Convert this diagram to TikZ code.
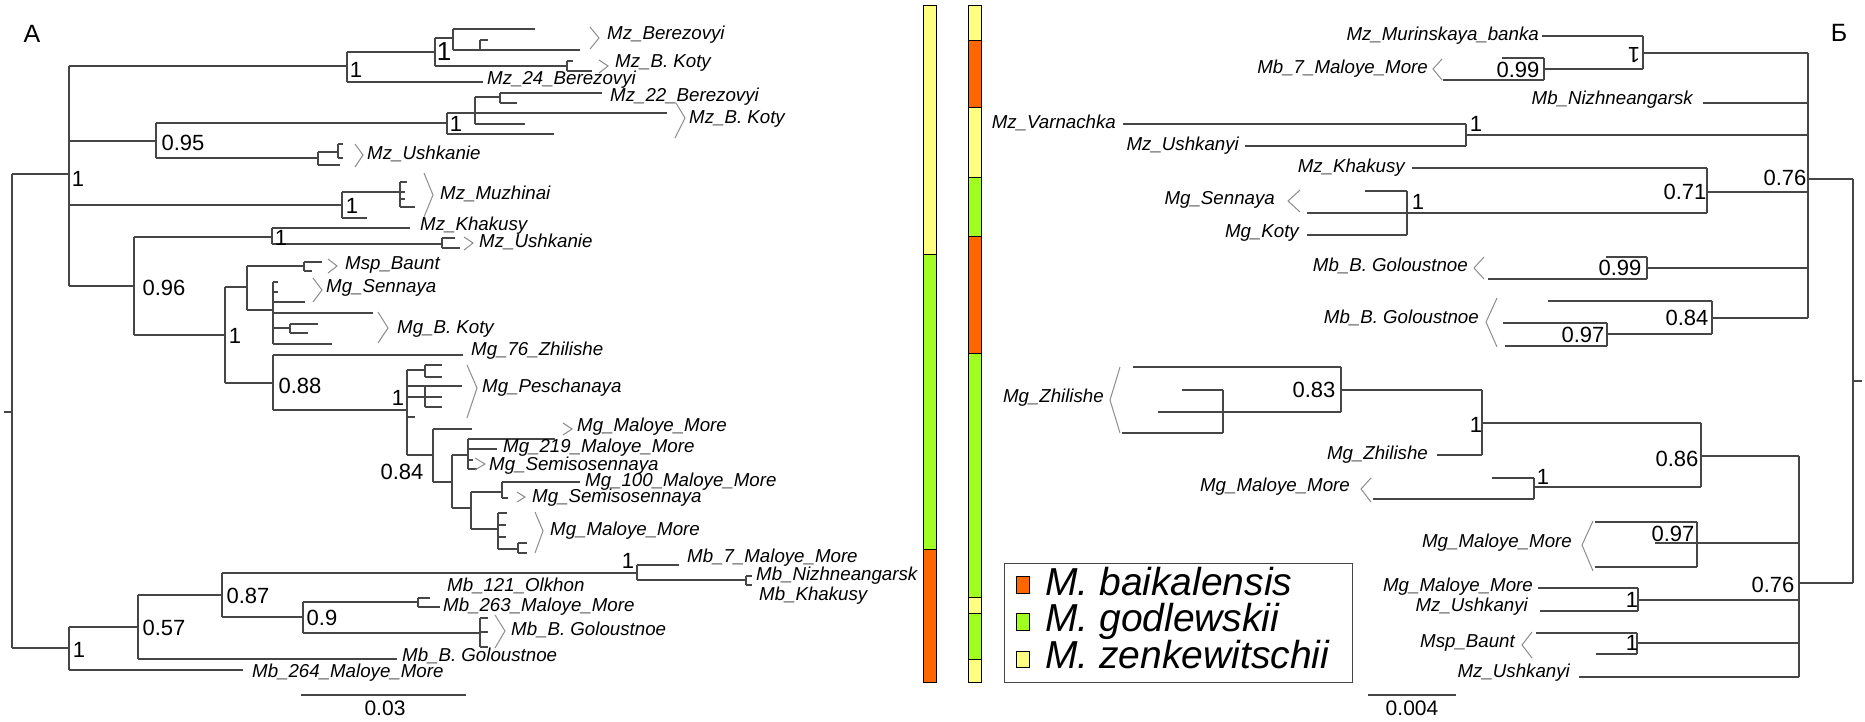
\documentclass[tikz,border=0pt]{standalone}
\usepackage{fontspec}
\setmainfont{Liberation Sans}
\definecolor{ln}{RGB}{70,70,70}
\definecolor{bk}{RGB}{140,140,140}
\definecolor{cor}{RGB}{255,102,0}
\definecolor{cgr}{RGB}{160,255,32}
\definecolor{cye}{RGB}{255,255,128}
\begin{document}
\begin{tikzpicture}[x=1pt,y=-1pt,
  brl/.style={draw=ln,line width=1.3pt},
  brk/.style={draw=bk,line width=1pt},
  tx/.style={font=\fontsize{18.7}{20}\selectfont\itshape,inner sep=0pt,text height=13.5pt,text depth=4pt},
  tw/.style={tx,anchor=west},
  te/.style={tx,anchor=east},
  nb/.style={font=\fontsize{22}{24}\selectfont,inner sep=0pt,text height=15.8pt,text depth=0pt},
  seg/.style={draw=black,line width=1pt},
  lg/.style={font=\fontsize{39}{40}\selectfont\itshape,inner sep=0pt,anchor=west,text height=28pt,text depth=0pt}]
\useasboundingbox (0,0) rectangle (1865,721);
% ================= TREE A =================
\node[font=\fontsize{25}{28}\selectfont,inner sep=0pt] (hA) at (32,34) {А};
\draw[brl] (4,412)--(12,412) (12,174)--(12,648) (12,174)--(69,174) (12,648)--(69,648)
 (69,66)--(69,286) (69,66)--(347,66) (69,141)--(156,141) (69,205)--(342,205) (69,286)--(134,286)
 (347,52)--(347,82) (347,52)--(435,52) (347,82)--(483,82)
 (435,38)--(435,66) (435,38)--(453,38) (435,66)--(567,66)
 (453,29)--(453,50) (453,29)--(535,29) (453,50)--(480,50)
 (480,40)--(480,50) (480,40)--(488,40) (480,50)--(580,50)
 (567,61)--(567,71) (567,61)--(573,61) (567,71)--(592,71)
 (156,123)--(156,158) (156,123)--(447,123) (156,158)--(318,158)
 (447,113)--(447,134) (447,113)--(475,113) (447,134)--(554,134)
 (475,97)--(475,124) (475,97)--(500,97) (475,113)--(667,113) (475,124)--(525,124)
 (500,93)--(500,103) (500,93)--(602,93) (500,103)--(517,103)
 (318,152)--(318,165) (318,152)--(338,152) (318,165)--(340,165)
 (338,144)--(338,158) (338,144)--(343,144) (338,158)--(343,158)
 (342,192)--(342,218) (342,192)--(405,192) (342,218)--(367,218)
 (400,182)--(400,207) (400,182)--(407,182) (400,199)--(405,199) (400,207)--(415,207)
 (134,237)--(134,335) (134,237)--(272,237) (134,335)--(225,335)
 (272,228)--(272,244) (272,228)--(410,228) (272,244)--(442,244)
 (442,238)--(442,248) (442,238)--(455,238) (442,248)--(460,248)
 (225,287)--(225,383) (225,287)--(247,287) (225,383)--(273,383)
 (247,266)--(247,310) (247,266)--(304,266) (247,310)--(273,310)
 (304,262)--(304,271) (304,262)--(322,262) (304,271)--(312,271)
 (273,282)--(273,344) (273,282)--(278,282) (273,292)--(278,292) (273,302)--(305,302)
 (273,313)--(373,313) (273,328)--(290,328) (273,344)--(332,344)
 (290,324)--(290,333) (290,324)--(318,324) (290,333)--(308,333)
 (273,355)--(273,410) (273,355)--(463,355) (273,410)--(407,410)
 (407,370)--(407,455) (407,370)--(425,370) (407,386)--(462,386) (407,397)--(425,397)
 (407,417)--(415,417) (407,455)--(433,455)
 (425,365)--(425,377) (425,365)--(442,365) (425,377)--(442,377)
 (425,387)--(425,407) (425,397)--(442,397) (425,407)--(442,407)
 (433,429)--(433,482) (433,429)--(472,429) (433,482)--(452,482)
 (452,455)--(452,508) (452,455)--(468,455) (452,508)--(471,508)
 (468,439)--(468,469) (468,439)--(555,439) (468,449)--(497,449) (468,460)--(473,460) (468,469)--(477,469)
 (471,492)--(471,529) (471,492)--(502,492) (471,529)--(498,529)
 (502,482)--(502,498) (502,482)--(580,482) (502,498)--(508,498)
 (498,513)--(498,549) (498,513)--(507,513) (498,525)--(506,525) (498,537)--(506,537) (498,549)--(518,549)
 (518,543)--(518,553) (518,543)--(527,543) (518,553)--(527,553)
 (69,627)--(69,670) (69,627)--(138,627) (69,670)--(243,670)
 (138,595)--(138,659) (138,595)--(222,595) (138,659)--(397,659)
 (222,573)--(222,617) (222,573)--(637,573) (222,617)--(303,617)
 (637,565)--(637,580) (637,565)--(679,565) (637,580)--(746,580)
 (746,576)--(746,585) (746,576)--(752,576) (746,585)--(752,585)
 (303,602)--(303,633) (303,602)--(418,602) (303,633)--(480,633)
 (418,598)--(418,607) (418,598)--(430,598) (418,607)--(440,607)
 (480,618)--(480,647) (480,618)--(488,618) (480,632)--(488,632) (480,647)--(488,647);
% brackets A
\draw[brk] (590,27)--(599,38)--(590,49) (599,60)--(608,66)--(599,73)
 (676,103)--(685,118)--(675,138) (355,144)--(363,155)--(355,167)
 (424,173)--(433,195)--(424,217) (464,237)--(473,243)--(464,250)
 (328,259)--(337,266)--(328,273) (313,278)--(322,290)--(313,302)
 (378,312)--(388,328)--(378,343) (467,365)--(477,388)--(467,418)
 (563,423)--(572,429)--(563,435) (475,458)--(485,464)--(475,470)
 (517,492)--(525,497)--(517,502) (535,512)--(543,531)--(535,553)
 (495,615)--(505,631)--(495,648);
% support values A
\node[nb] (a1) at (78,179) {1};
\node[nb] (a2) at (356,70) {1};
\node[nb,font=\fontsize{26}{28}\selectfont] (a3) at (444,53) {1};
\node[nb] (a4) at (183,143) {0.95};
\node[nb] (a5) at (456,124) {1};
\node[nb] (a6) at (352,206) {1};
\node[nb] (a7) at (164,288) {0.96};
\node[nb] (a8) at (281,238) {1};
\node[nb] (a9) at (235,336) {1};
\node[nb] (a10) at (300,386) {0.88};
\node[nb] (a11) at (398,398) {1};
\node[nb] (a12) at (402,472) {0.84};
\node[nb] (a13) at (79,650) {1};
\node[nb] (a14) at (164,628) {0.57};
\node[nb] (a15) at (248,596) {0.87};
\node[nb] (a16) at (628,561) {1};
\node[nb] (a17) at (322,618) {0.9};
% taxa A
\node[tw] (t1) at (607,35) {Mz\_Berezovyi};
\node[tw] (t2) at (615,63) {Mz\_B. Koty};
\node[tw] (t3) at (487,80) {Mz\_24\_Berezovyi};
\node[tw] (t4) at (610,97) {Mz\_22\_Berezovyi};
\node[tw] (t5) at (689,119) {Mz\_B. Koty};
\node[tw] (t6) at (367,155) {Mz\_Ushkanie};
\node[tw] (t7) at (440,195) {Mz\_Muzhinai};
\node[tw] (t8) at (420,226) {Mz\_Khakusy};
\node[tw] (t9) at (479,243) {Mz\_Ushkanie};
\node[tw] (t10) at (345,265) {Msp\_Baunt};
\node[tw] (t11) at (326,288) {Mg\_Sennaya};
\node[tw] (t12) at (397,329) {Mg\_B. Koty};
\node[tw] (t13) at (471,351) {Mg\_76\_Zhilishe};
\node[tw] (t14) at (482,388) {Mg\_Peschanaya};
\node[tw] (t15) at (577,427) {Mg\_Maloye\_More};
\node[tw] (t16) at (503,448) {Mg\_219\_Maloye\_More};
\node[tw] (t17) at (489,466) {Mg\_Semisosennaya};
\node[tw] (t18) at (585,482) {Mg\_100\_Maloye\_More};
\node[tw] (t19) at (532,498) {Mg\_Semisosennaya};
\node[tw] (t20) at (550,531) {Mg\_Maloye\_More};
\node[tw] (t21) at (687,558) {Mb\_7\_Maloye\_More};
\node[tw] (t22) at (756,576) {Mb\_Nizhneangarsk};
\node[tw] (t23) at (759,596) {Mb\_Khakusy};
\node[tw] (t24) at (447,587) {Mb\_121\_Olkhon};
\node[tw] (t25) at (443,607) {Mb\_263\_Maloye\_More};
\node[tw] (t26) at (511,631) {Mb\_B. Goloustnoe};
\node[tw] (t27) at (402,657) {Mb\_B. Goloustnoe};
\node[tw] (t28) at (252,673) {Mb\_264\_Maloye\_More};
\draw[brl] (301,695)--(466,695);
\node[nb,font=\fontsize{21}{24}\selectfont] (sA) at (385,708) {0.03};
% ================= BARS =================
\draw[seg,fill=cye] (923,5) rectangle (936,254);
\draw[seg,fill=cgr] (923,254) rectangle (936,549);
\draw[seg,fill=cor] (923,549) rectangle (936,682);
\draw[seg,fill=cye] (968,5) rectangle (981,40);
\draw[seg,fill=cor] (968,40) rectangle (981,107);
\draw[seg,fill=cye] (968,107) rectangle (981,177);
\draw[seg,fill=cgr] (968,177) rectangle (981,236);
\draw[seg,fill=cor] (968,236) rectangle (981,353);
\draw[seg,fill=cgr] (968,353) rectangle (981,597);
\draw[seg,fill=cye] (968,597) rectangle (981,613);
\draw[seg,fill=cgr] (968,613) rectangle (981,659);
\draw[seg,fill=cye] (968,659) rectangle (981,682);
% legend
\draw[draw=ln,line width=1pt] (1004,563) rectangle (1352,682);
\draw[seg,fill=cor] (1016,576) rectangle (1029,593);
\draw[seg,fill=cgr] (1016,613) rectangle (1029,630);
\draw[seg,fill=cye] (1016,651) rectangle (1029,667);
\node[lg] (l1) at (1045,581) {M. baikalensis};
\node[lg] (l2) at (1045,617) {M. godlewskii};
\node[lg] (l3) at (1045,654) {M. zenkewitschii};
% ================= TREE B =================
\node[font=\fontsize{25}{28}\selectfont,inner sep=0pt] (hB) at (1839,33) {Б};
\draw[brl] (1853,179)--(1853,583) (1853,381)--(1862,381) (1808,179)--(1853,179) (1799,583)--(1853,583)
 (1808,53)--(1808,318) (1643,53)--(1808,53) (1703,103)--(1808,103) (1466,135)--(1808,135)
 (1707,192)--(1808,192) (1647,268)--(1808,268) (1712,318)--(1808,318)
 (1643,36)--(1643,69) (1542,36)--(1643,36) (1544,69)--(1643,69)
 (1544,58)--(1544,80) (1502,58)--(1544,58) (1443,80)--(1544,80)
 (1466,124)--(1466,146) (1123,124)--(1466,124) (1245,146)--(1466,146)
 (1707,168)--(1707,213) (1412,168)--(1707,168) (1307,213)--(1707,213)
 (1407,191)--(1407,235) (1365,191)--(1407,191) (1307,235)--(1407,235)
 (1647,257)--(1647,279) (1606,257)--(1647,257) (1488,279)--(1647,279)
 (1712,301)--(1712,334) (1548,301)--(1712,301) (1607,334)--(1712,334)
 (1607,323)--(1607,346) (1503,323)--(1607,323) (1505,346)--(1607,346)
 (1799,456)--(1799,677) (1701,456)--(1799,456) (1697,543)--(1799,543)
 (1638,600)--(1799,600) (1637,643)--(1799,643) (1579,677)--(1799,677)
 (1701,423)--(1701,487) (1482,423)--(1701,423) (1534,487)--(1701,487)
 (1482,390)--(1482,455) (1341,390)--(1482,390) (1437,455)--(1482,455)
 (1341,367)--(1341,412) (1133,367)--(1341,367) (1158,412)--(1341,412)
 (1223,390)--(1223,433) (1182,390)--(1223,390) (1122,433)--(1223,433)
 (1534,478)--(1534,499) (1492,478)--(1534,478) (1373,499)--(1534,499)
 (1697,522)--(1697,567) (1595,522)--(1697,522) (1655,543)--(1697,543) (1595,567)--(1697,567)
 (1638,588)--(1638,611) (1538,588)--(1638,588) (1540,611)--(1638,611)
 (1637,633)--(1637,654) (1536,633)--(1637,633) (1596,654)--(1637,654);
\draw[brk] (1442,59)--(1433,69)--(1442,80) (1300,190)--(1288,201)--(1300,212)
 (1484,257)--(1474,268)--(1484,279) (1497,298)--(1486,322)--(1497,347)
 (1120,367)--(1110,400)--(1120,433) (1371,478)--(1361,489)--(1371,502)
 (1593,521)--(1582,545)--(1593,571) (1532,632)--(1522,645)--(1532,658);
\node[nb,rotate=180] (b1) at (1634,55) {1};
\node[nb] (b2) at (1518,70) {0.99};
\node[nb] (b3) at (1476,124) {1};
\node[nb] (b4) at (1685,192) {0.71};
\node[nb] (b5) at (1418,202) {1};
\node[nb] (b6) at (1785,178) {0.76};
\node[nb] (b7) at (1620,268) {0.99};
\node[nb] (b8) at (1687,318) {0.84};
\node[nb] (b9) at (1583,335) {0.97};
\node[nb] (b10) at (1314,390) {0.83};
\node[nb] (b11) at (1476,425) {1};
\node[nb] (b12) at (1677,459) {0.86};
\node[nb] (b13) at (1543,477) {1};
\node[nb] (b14) at (1673,534) {0.97};
\node[nb] (b15) at (1773,585) {0.76};
\node[nb] (b16) at (1632,600) {1};
\node[nb] (b17) at (1632,643) {1};
\node[te] (r1) at (1539,36) {Mz\_Murinskaya\_banka};
\node[te] (r2) at (1428,69) {Mb\_7\_Maloye\_More};
\node[te] (r3) at (1693,100) {Mb\_Nizhneangarsk};
\node[te] (r4) at (1116,124) {Mz\_Varnachka};
\node[te] (r5) at (1239,146) {Mz\_Ushkanyi};
\node[te] (r6) at (1405,168) {Mz\_Khakusy};
\node[te] (r7) at (1275,200) {Mg\_Sennaya};
\node[te] (r8) at (1299,233) {Mg\_Koty};
\node[te] (r9) at (1468,267) {Mb\_B. Goloustnoe};
\node[te] (r10) at (1479,319) {Mb\_B. Goloustnoe};
\node[te] (r11) at (1104,398) {Mg\_Zhilishe};
\node[te] (r12) at (1428,455) {Mg\_Zhilishe};
\node[te] (r13) at (1350,487) {Mg\_Maloye\_More};
\node[te] (r14) at (1572,543) {Mg\_Maloye\_More};
\node[te] (r15) at (1533,587) {Mg\_Maloye\_More};
\node[te] (r16) at (1528,607) {Mz\_Ushkanyi};
\node[te] (r17) at (1515,643) {Msp\_Baunt};
\node[te] (r18) at (1570,673) {Mz\_Ushkanyi};
\draw[brl] (1368,695)--(1456,695);
\node[nb,font=\fontsize{21}{24}\selectfont] (sB) at (1412,708) {0.004};
\end{tikzpicture}
\end{document}
